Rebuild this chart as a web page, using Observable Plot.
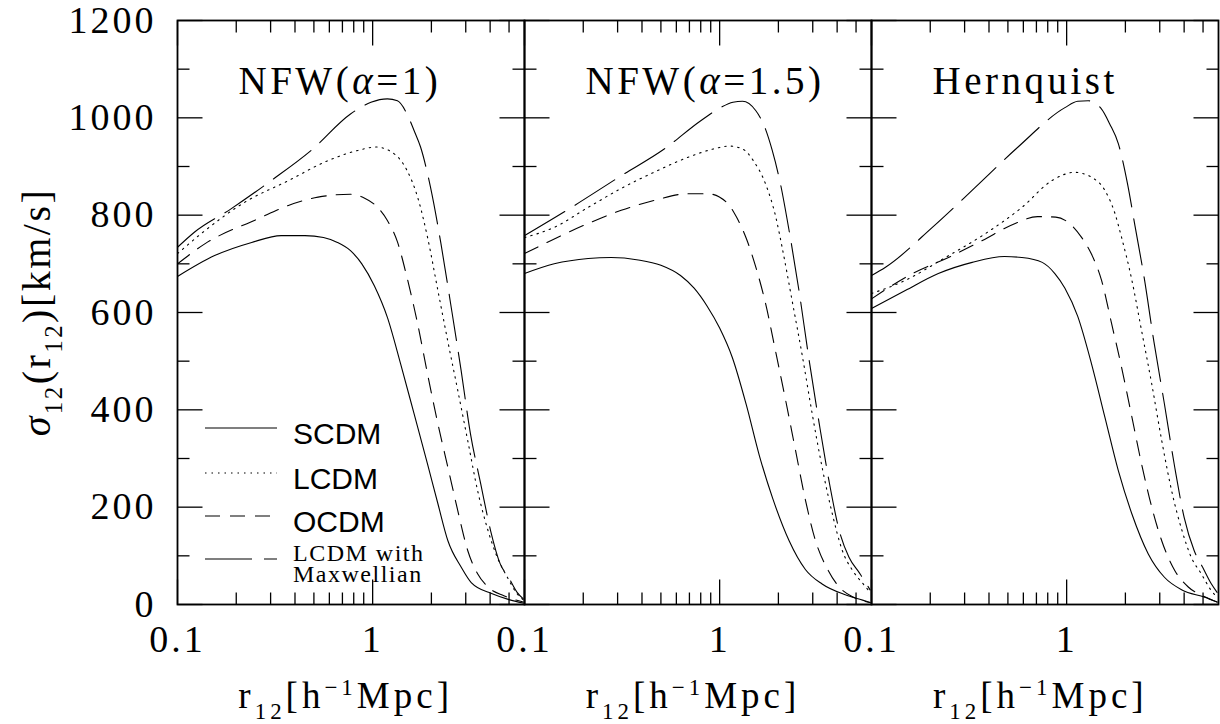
<!DOCTYPE html>
<html>
<head>
<meta charset="utf-8">
<script src="https://cdn.jsdelivr.net/npm/d3@7"></script>
<script src="https://cdn.jsdelivr.net/npm/@observablehq/plot@0.6"></script>
<style>
  html, body { margin: 0; padding: 0; background: #fff; }
  #chart { width: 1220px; height: 724px; }
</style>
</head>
<body>
<div id="chart"></div>
<script>
// ---------------- data ----------------
const panels = ["NFW(α=1)", "NFW(α=1.5)", "Hernquist"];
const models = ["SCDM", "LCDM", "OCDM", "LCDM with Maxwellian"];

const xDomain = [0.1, 6];
const yDomain = [0, 1200];
const yMajorTicks = [0, 200, 400, 600, 800, 1000, 1200];
const yMinorTicks = [100, 300, 500, 700, 900, 1100];
const xMajorTicks = [0.1, 1];
const xTickLabels = ["0.1", "1"];
const xMinorTicks = [0.2, 0.3, 0.4, 0.5, 0.6, 0.7, 0.8, 0.9, 2, 3, 4, 5];

const yLabel = [["σ", "it"], ["12", "sub"], ["(r", null], ["12", "sub"], [")[km/s]", null]];
const xLabel = [["r", null], ["12", "sub"], ["[h", null], ["−1", "sup"], ["Mpc]", null]];

// [r12 (h^-1 Mpc), sigma12 (km/s)]
const nfw1_SCDM = [[0.1,674],[0.155,717],[0.24,744],[0.34,758],[0.45,758],[0.56,754],[0.66,744],[0.77,727],[0.88,700],[1.02,655],[1.19,590],[1.39,495],[1.63,392],[1.91,289],[2.16,207],[2.43,131],[2.84,77],[3.2,45],[4.1,22],[5.0,10],[5.9,3]];
const nfw1_LCDM = [[0.1,721],[0.138,768],[0.22,826],[0.37,871],[0.59,912],[0.84,933],[1.04,940],[1.29,926],[1.5,892],[1.7,837],[1.91,755],[2.16,645],[2.43,540],[2.73,440],[3.07,337],[3.45,234],[3.9,152],[4.35,97],[4.9,56],[5.5,22],[5.9,10]];
const nfw1_OCDM = [[0.1,700],[0.138,741],[0.26,793],[0.37,820],[0.525,837],[0.77,843],[0.9,836],[1.06,816],[1.19,789],[1.34,745],[1.5,672],[1.7,577],[1.91,474],[2.16,371],[2.43,282],[2.73,193],[3.07,111],[3.45,63],[3.9,36],[4.7,18],[5.9,5]];
const nfw1_LCDMmax = [[0.1,734],[0.122,765],[0.188,813],[0.302,871],[0.484,933],[0.77,1008],[0.98,1032],[1.19,1039],[1.34,1035],[1.5,1008],[1.63,974],[1.76,940],[1.98,857],[2.24,741],[2.51,618],[2.84,481],[3.17,351],[3.58,248],[4.02,152],[4.5,84],[4.97,56],[5.5,25],[5.9,12]];

const nfw15_SCDM = [[0.1,680],[0.142,700],[0.212,711],[0.278,713],[0.383,708],[0.5,697],[0.63,676],[0.74,650],[0.86,614],[1.0,568],[1.16,508],[1.37,410],[1.6,305],[1.87,218],[2.27,131],[2.75,72],[3.35,42],[4.4,20],[5.4,9],[5.9,4]];
const nfw15_LCDM = [[0.1,754],[0.142,775],[0.212,816],[0.313,855],[0.46,888],[0.69,919],[0.95,937],[1.12,942],[1.31,936],[1.5,910],[1.72,864],[1.94,796],[2.09,734],[2.35,625],[2.66,508],[2.98,392],[3.35,282],[3.78,186],[4.25,111],[4.8,70],[5.5,40],[5.9,25]];
const nfw15_OCDM = [[0.1,721],[0.137,748],[0.212,783],[0.313,810],[0.46,830],[0.69,844],[0.87,844],[1.1,824],[1.22,796],[1.37,752],[1.52,698],[1.72,618],[1.94,518],[2.18,419],[2.45,316],[2.75,215],[3.1,131],[3.6,70],[4.1,36],[4.8,16],[5.9,4]];
const nfw15_LCDMmax = [[0.1,758],[0.174,816],[0.313,881],[0.52,936],[0.8,994],[1.01,1021],[1.17,1032],[1.31,1034],[1.53,1015],[1.69,984],[1.86,933],[2.05,864],[2.27,768],[2.55,645],[2.86,508],[3.24,371],[3.63,255],[4.1,152],[4.6,97],[5.2,65],[5.6,45],[5.9,30]];

const hern_SCDM = [[0.1,608],[0.149,645],[0.22,680],[0.328,703],[0.48,715],[0.59,713],[0.75,703],[0.87,680],[0.98,650],[1.14,592],[1.34,495],[1.57,385],[1.84,275],[2.16,186],[2.62,104],[3.17,56],[3.9,30],[5.1,15],[5.9,5]];
const hern_LCDM = [[0.1,639],[0.149,666],[0.239,713],[0.383,762],[0.59,816],[0.84,871],[1.1,888],[1.34,878],[1.57,851],[1.77,803],[1.91,755],[2.16,666],[2.42,563],[2.73,453],[3.07,337],[3.45,234],[3.9,152],[4.35,97],[4.9,63],[5.5,29],[5.9,15]];
const hern_OCDM = [[0.1,628],[0.162,680],[0.248,713],[0.37,748],[0.545,783],[0.71,797],[0.88,796],[1.02,785],[1.19,755],[1.34,720],[1.51,666],[1.7,577],[1.91,488],[2.16,385],[2.42,289],[2.73,200],[3.07,131],[3.58,70],[4.2,36],[5.1,16],[5.9,5]];
const hern_LCDMmax = [[0.1,676],[0.118,693],[0.205,775],[0.34,857],[0.56,939],[0.98,1021],[1.14,1034],[1.29,1035],[1.51,1018],[1.66,988],[1.84,947],[2.05,865],[2.24,778],[2.5,670],[2.8,540],[3.17,412],[3.58,282],[4.0,179],[4.5,111],[4.97,77],[5.5,43],[5.9,25]];

const seriesTable = [
  [panels[0], models[0], nfw1_SCDM], [panels[0], models[1], nfw1_LCDM],
  [panels[0], models[2], nfw1_OCDM], [panels[0], models[3], nfw1_LCDMmax],
  [panels[1], models[0], nfw15_SCDM], [panels[1], models[1], nfw15_LCDM],
  [panels[1], models[2], nfw15_OCDM], [panels[1], models[3], nfw15_LCDMmax],
  [panels[2], models[0], hern_SCDM], [panels[2], models[1], hern_LCDM],
  [panels[2], models[2], hern_OCDM], [panels[2], models[3], hern_LCDMmax]
];

// ---------------- styles / layout ----------------
const W = 1220, H = 724;
const M = {top: 20, right: 2, bottom: 120, left: 176};
const panelW = (W - M.left - M.right) / panels.length;
const frameH = H - M.top - M.bottom;
const lineDash = {"SCDM": null, "LCDM": "1.5,5", "OCDM": "15,10", "LCDM with Maxwellian": "47,12"};
const SERIF = "'Liberation Serif', 'Times New Roman', serif";
const SANS = "'Liberation Sans', Arial, sans-serif";

const rows = seriesTable.flatMap(([panel, model, pts]) => pts.map(([r, s]) => ({panel, model, r, s})));

const plot = Plot.plot({
  width: W, height: H,
  marginTop: M.top, marginRight: M.right, marginBottom: M.bottom, marginLeft: M.left,
  style: {background: "white", color: "black", fontFamily: SERIF},
  fx: {domain: panels, padding: 0, axis: null, label: null},
  x: {type: "log", domain: xDomain, axis: null, label: null},
  y: {domain: yDomain, axis: null, label: null},
  marks: [
    ...models.map(m => Plot.line(rows.filter(d => d.model === m), {
      x: "r", y: "s", fx: "panel", curve: "monotone-x",
      stroke: "black", strokeWidth: 1.1, strokeDasharray: lineDash[m]
    })),
    Plot.axisY({anchor: "left", ticks: yMajorTicks, tickSize: 0, tickPadding: 21,
      tickFormat: d => String(d), fontSize: 38, label: null, fill: "black"}),
    Plot.text(xMajorTicks, {
      x: d => d, text: d => xTickLabels[xMajorTicks.indexOf(d)],
      frameAnchor: "bottom", dy: 21, lineAnchor: "top", textAnchor: "middle",
      fontSize: 38, fontFamily: SERIF, fill: "black"
    }),
    Plot.text(panels, {
      fx: d => d, text: d => d, frameAnchor: "top-left", dx: 61, dy: 61,
      textAnchor: "start", lineAnchor: "middle", fontSize: 39, fontFamily: SERIF,
      fill: "black"
    }),
    Plot.frame({stroke: "black", strokeWidth: 1.8})
  ]
});

document.getElementById("chart").appendChild(plot);
const svg = d3.select(plot);

// ---------------- text post-processing ----------------
function rich(textSel, parts, F) {
  let shift = 0;
  for (const [t, kind] of parts) {
    const ts = textSel.append("tspan").text(t);
    let target = 0, size = null;
    if (kind === "sub") { target = 0.3 * F; size = 0.62 * F; }
    else if (kind === "sup") { target = -0.36 * F; size = 0.62 * F; }
    if (target - shift !== 0) ts.attr("dy", target - shift);
    shift = target;
    if (size) ts.attr("font-size", size);
    if (kind === "it") ts.attr("font-style", "italic");
  }
}

svg.selectAll('g[aria-label="y-axis tick label"] text').style("letter-spacing", "3px");

svg.selectAll('g[aria-label="text"] text').each(function() {
  const el = d3.select(this);
  const txt = el.text();
  if (xTickLabels.includes(txt)) { el.style("letter-spacing", "3px"); return; }
  el.text("").style("letter-spacing", "3.5px");
  const parts = [];
  txt.split(/(α)/).forEach(p => { if (p !== "") parts.push([p, p === "α" ? "it" : null]); });
  rich(el, parts, 39);
});

// y-axis label
const yLab = svg.append("text")
  .attr("transform", `translate(37,${M.top + frameH / 2}) rotate(-90)`)
  .attr("text-anchor", "middle").attr("dy", "0.32em")
  .attr("font-family", SERIF).attr("font-size", 40).attr("fill", "black")
  .style("letter-spacing", "2.5px");
rich(yLab, yLabel, 40);

// x-axis labels under each panel
panels.forEach((p, i) => {
  const t = svg.append("text")
    .attr("x", M.left + panelW * (i + 0.5) - 4).attr("y", 708)
    .attr("text-anchor", "middle")
    .attr("font-family", SERIF).attr("font-size", 37).attr("fill", "black")
    .style("letter-spacing", "4px");
  rich(t, xLabel, 37);
});

// legend inside the first panel
const leg = svg.append("g").attr("transform", `translate(${M.left},${M.top})`);
const legendY = [408, 453, 496, 539];
models.forEach((m, i) => {
  const y = legendY[i];
  leg.append("line").attr("x1", 29).attr("x2", 101).attr("y1", y).attr("y2", y)
    .attr("stroke", "black").attr("stroke-width", 1.1)
    .attr("stroke-dasharray", lineDash[m]);
  if (m === "LCDM with Maxwellian") {
    ["LCDM with", "Maxwellian"].forEach((s, j) => {
      leg.append("text").attr("x", 117).attr("y", y + 2 + j * 21)
        .attr("text-anchor", "start")
        .attr("font-family", SERIF).attr("font-size", 24).attr("fill", "black")
        .style("letter-spacing", "1.5px").text(s);
    });
  } else {
    leg.append("text").attr("x", 117).attr("y", y + 16)
      .attr("text-anchor", "start")
      .attr("font-family", SANS).attr("font-size", 30).attr("fill", "black").text(m);
  }
});

// ---------------- inward ticks on all four sides of every panel ----------------
let bandStart = i => M.left + i * panelW;
let bw = panelW;
try {
  const fxs = plot.scale("fx");
  const s0 = fxs.apply(panels[0]);
  if (Number.isFinite(s0) && Number.isFinite(fxs.bandwidth) && fxs.bandwidth > 0) {
    bandStart = i => fxs.apply(panels[i]) + 0.5;
    bw = fxs.bandwidth;
  }
} catch (e) { /* layout fallback */ }
const yPix = d3.scaleLinear(yDomain, [H - M.bottom + 0.5, M.top + 0.5]);
const xPix = d3.scaleLog(xDomain, [0, bw]);
const tg = svg.append("g");
const tick = (x1, y1, x2, y2) => tg.append("line")
  .attr("x1", x1).attr("y1", y1).attr("x2", x2).attr("y2", y2)
  .attr("stroke", "black").attr("stroke-width", 1.3);
panels.forEach((p, i) => {
  const L = bandStart(i), R = L + bw, T = M.top + 0.5, B = H - M.bottom + 0.5;
  [[yMajorTicks, 25], [yMinorTicks, 12]].forEach(([ticks, size]) => ticks.forEach(v => {
    const y = yPix(v);
    tick(L, y, L + size, y);
    tick(R, y, R - size, y);
  }));
  [[xMajorTicks, 25], [xMinorTicks, 12]].forEach(([ticks, size]) => ticks.forEach(v => {
    const x = L + xPix(v);
    tick(x, B, x, B - size);
    tick(x, T, x, T + size);
  }));
});
</script>
</body>
</html>
